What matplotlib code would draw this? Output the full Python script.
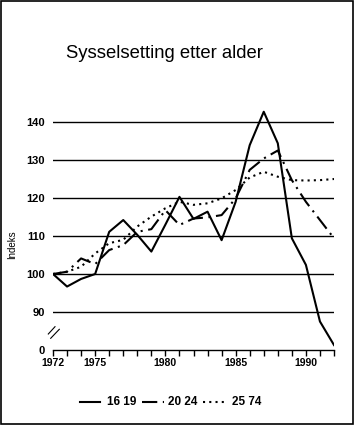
import matplotlib
matplotlib.use("Agg")
import matplotlib.pyplot as plt
from matplotlib.lines import Line2D
from matplotlib.patches import Rectangle

plt.rcParams['font.family'] = ['Liberation Sans', 'DejaVu Sans']
plt.rcParams['lines.scale_dashes'] = False

years = list(range(1972, 1993))
s16_19 = [100, 96.7, 98.7, 100, 111.1, 114.2, 110.3, 105.9, 113.0, 120.3, 114.5,
          116.4, 108.9, 119.0, 133.9, 142.7, 134.4, 109.4, 102.4, 87.5, 81.3]
s20_24 = [100, 100.6, 104.1, 102.6, 106.3, 107.6, 111.1, 111.8, 116.8, 112.9, 114.6,
          114.9, 115.5, 119.9, 127.4, 130.4, 132.5, 124.7, 119.0, 114.2, 109.4]
s25_74 = [100, 100.6, 101.9, 105.4, 108.1, 109.0, 112.5, 115.1, 117.3, 119.0, 118.2,
          118.6, 119.9, 122.1, 125.4, 126.9, 125.6, 124.7, 124.6, 124.7, 125.0]
labels = ['16 19', '20 24', '25 74']
ytick_vals = [80, 90, 100, 110, 120, 130, 140]
ytick_labels = ['0', '90', '100', '110', '120', '130', '140']
xtick_labels = [1972, 1975, 1980, 1985, 1990]

W, H = 360, 428
fig = plt.figure(figsize=(W / 100, H / 100), dpi=100)

def fx(px):
    return px / W

def fy(py):
    return (H - py) / H

ax = fig.add_axes([fx(53), fy(350), fx(334) - fx(53), fy(103) - fy(350)])
ax.set_xlim(1972, 1992)
ax.set_ylim(80, 145)

for v in ytick_vals[1:]:
    ax.axhline(v, color='black', lw=1.0, zorder=1)

styles = [dict(), dict(dashes=(11, 4, 1.5, 4)), dict(dashes=(1.5, 3))]
for series, st in zip([s16_19, s20_24, s25_74], styles):
    ax.plot(years, series, color='black', lw=1.5, zorder=3, **st)

for s in ['top', 'right', 'left']:
    ax.spines[s].set_visible(False)
ax.spines['bottom'].set_linewidth(1.0)

ax.set_yticks(ytick_vals)
ax.set_yticklabels(ytick_labels, fontsize=8, fontweight='bold')
ax.tick_params(axis='y', length=0, pad=6)
ax.set_xticks(years, minor=True)
ax.set_xticks(xtick_labels)
ax.set_xticklabels([str(x) for x in xtick_labels], fontsize=7.5, fontweight='bold')
ax.tick_params(axis='x', which='both', length=4, width=1.0, direction='out', pad=2)

fig.text(fx(12), fy(245), 'Indeks', rotation=90, fontsize=7, ha='center', va='center')
fig.text(fx(66), fy(53), 'Sysselsetting etter alder', fontsize=13.3, ha='left', va='center')

# axis break marks
fig.add_artist(Line2D([fx(48.3), fx(55)], [fy(334), fy(326.7)], color='black', lw=0.8))
fig.add_artist(Line2D([fx(50.7), fx(59.3)], [fy(338.3), fy(329.3)], color='black', lw=0.8))

# legend (manual placement)
leg_lines = [(80, 100), (142, 164), (203, 225)]
leg_text_x = [107, 168, 232]
ly = 402
for (x0, x1), tx, lab, st in zip(leg_lines, leg_text_x, labels, styles):
    fig.add_artist(Line2D([fx(x0), fx(x1)], [fy(ly), fy(ly)], color='black', lw=1.5, **st))
    fig.text(fx(tx), fy(ly), lab, fontsize=8.5, fontweight='bold', ha='left', va='center')

fig.add_artist(Rectangle((fx(1), fy(424)), fx(353) - fx(1), fy(1) - fy(424),
                         fill=False, edgecolor='black', lw=1.2, transform=fig.transFigure))

fig.savefig('out.png', dpi=100)
